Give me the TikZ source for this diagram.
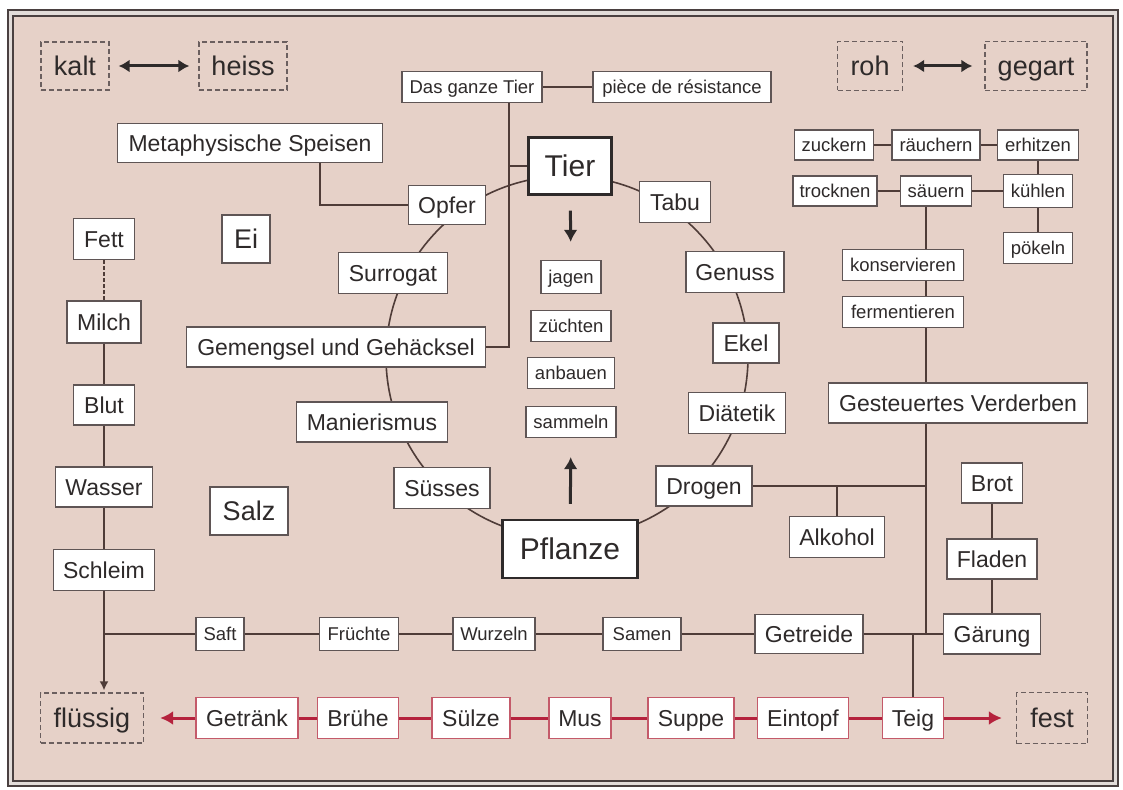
\documentclass[tikz,border=0pt]{standalone}
\usepackage{fontspec}
\setmainfont{Liberation Sans}
\usetikzlibrary{arrows.meta}
\newcommand\fsz[1]{\fontsize{#1}{#1}\selectfont}
\definecolor{bgc}{HTML}{E6D1C8}
\definecolor{bandc}{HTML}{E2DCD9}
\definecolor{framec}{HTML}{4A4040}
\definecolor{bordc}{HTML}{5F5555}
\definecolor{linec}{HTML}{4F3C38}
\definecolor{txt}{HTML}{2E2A2A}
\definecolor{dashc}{HTML}{6B5F5F}
\definecolor{redl}{HTML}{B5223D}
\definecolor{redb}{HTML}{C45A6A}
\tikzset{
 box/.style={draw=bordc, line width=1.3pt, fill=white, inner sep=0pt, text=txt, font=\fsz{23}, text height=16.6pt, text depth=0pt},
 sbox/.style={box, font=\fsz{18.5}, text height=13.3pt},
 lbox/.style={box, font=\fsz{27}, text height=19.4pt},
 hbox/.style={box, line width=2.2pt, draw=txt, font=\fsz{30}, text height=21.6pt},
 dbox/.style={draw=dashc, line width=1.3pt, dash pattern=on 5pt off 3pt, inner sep=0pt, text=txt, font=\fsz{27}, text height=19.4pt, text depth=0pt},
 rbox/.style={box, draw=redb},
 ln/.style={draw=linec, line width=1.6pt},
 rln/.style={draw=redl, line width=3pt},
 bw/.style 2 args={minimum width=#1pt, minimum height=#2pt},
 darr/.style={draw=txt, line width=3pt, {Latex[length=11pt,width=13pt]}-{Latex[length=11pt,width=13pt]}},
 varr/.style={draw=txt, line width=3pt, -{Latex[length=12pt,width=14pt]}},
 rarr/.style={rln, -{Latex[length=13pt,width=14pt]}},
}
\begin{document}
\begin{tikzpicture}[x=1pt,y=-1pt]
\useasboundingbox (0,0) rectangle (1123,789);
% frame
\fill[white] (0,0) rectangle (1123,789);
\draw[framec, line width=2pt, fill=bandc] (8,10) rectangle (1118,786);
\draw[framec, line width=1.4pt, fill=bgc] (13,16) rectangle (1113,781);
% ring behind the nodes
\coordinate (ring) at (567,357);
\draw[ln] (ring) circle[radius=181];

% dashed pole boxes
\node[dbox, bw={68}{48}] (kalt) at (75,66) {kalt};
\node[dbox, bw={88}{48}] (heiss) at (243,66) {heiss};
\node[dbox, bw={65}{49}] (roh) at (870,66) {roh};
\node[dbox, bw={102}{49}] (gegart) at (1036,66) {gegart};
\node[dbox, bw={103}{50}] (fluessig) at (92,718) {flüssig};
\node[dbox, bw={71}{51}] (fest) at (1052,718) {fest};

% top
\node[sbox, bw={140}{31}] (dgt) at (472,87) {Das ganze Tier};
\node[sbox, bw={178}{31}] (piece) at (682,87) {pièce de résistance};
\node[box, bw={265}{39}] (meta) at (250,143) {Metaphysische Speisen};

% ring nodes
\node[hbox, bw={83}{57}] (tier) at (570,166) {Tier};
\node[box, bw={77}{39}] (opfer) at (447,205) {Opfer};
\node[box, bw={71}{41}] (tabu) at (675,202) {Tabu};
\node[box, bw={109}{41}] (surrogat) at (393,273) {Surrogat};
\node[box, bw={98}{41}] (genuss) at (735,272) {Genuss};
\node[box, bw={66}{40}] (ekel) at (746,343) {Ekel};
\node[box, bw={299}{40}] (gem) at (336,347) {Gemengsel und Gehäcksel};
\node[box, bw={97}{41}] (dia) at (737,413) {Diätetik};
\node[box, bw={151}{40}] (mani) at (372,422) {Manierismus};
\node[box, bw={96}{40}] (drogen) at (704,486) {Drogen};
\node[box, bw={96}{41}] (suesses) at (442,488) {Süsses};
\node[hbox, bw={135}{58}] (pflanze) at (570,549) {Pflanze};

% inner verbs
\node[sbox, bw={60}{33}] (jagen) at (571,277) {jagen};
\node[sbox, bw={80}{31}] (zuechten) at (571,326) {züchten};
\node[sbox, bw={87}{31}] (anbauen) at (571,373) {anbauen};
\node[sbox, bw={90}{31}] (sammeln) at (571,422) {sammeln};

% left column
\node[box, bw={61}{41}] (fett) at (104,239) {Fett};
\node[box, bw={74}{42}] (milch) at (104,322) {Milch};
\node[box, bw={61}{40}] (blut) at (104,405) {Blut};
\node[box, bw={97}{40}] (wasser) at (104,487) {Wasser};
\node[box, bw={101}{41}] (schleim) at (104,570) {Schleim};
\node[lbox, bw={48}{48}] (ei) at (246,239) {Ei};
\node[lbox, bw={78}{48}] (salz) at (249,511) {Salz};

% top right cluster
\node[sbox, bw={79}{30}] (zuckern) at (834,145) {zuckern};
\node[sbox, bw={88}{30}] (raeuchern) at (936,145) {räuchern};
\node[sbox, bw={81}{30}] (erhitzen) at (1038,145) {erhitzen};
\node[sbox, bw={84}{30}] (trocknen) at (835,191) {trocknen};
\node[sbox, bw={71}{30}] (saeuern) at (936,191) {säuern};
\node[sbox, bw={69}{33}] (kuehlen) at (1038,191) {kühlen};
\node[sbox, bw={69}{31}] (poekeln) at (1038,248) {pökeln};
\node[sbox, bw={121}{31}] (konserv) at (903,265) {konservieren};
\node[sbox, bw={121}{31}] (ferm) at (903,312) {fermentieren};
\node[box, bw={259}{40}] (gv) at (958,403) {Gesteuertes Verderben};
\node[box, bw={61}{40}] (brot) at (992,483) {Brot};
\node[box, bw={90}{40}] (fladen) at (992,559) {Fladen};
\node[box, bw={95}{41}] (alkohol) at (837,537) {Alkohol};

% row of plant parts
\node[sbox, bw={48}{33}] (saft) at (220,634) {Saft};
\node[sbox, bw={79}{33}] (fruechte) at (359,634) {Früchte};
\node[sbox, bw={82}{33}] (wurzeln) at (494,634) {Wurzeln};
\node[sbox, bw={78}{33}] (samen) at (642,634) {Samen};
\node[box, bw={108}{39}] (getreide) at (809,634) {Getreide};
\node[box, bw={97}{40}] (gaerung) at (992,634) {Gärung};

% red row
\node[rbox, bw={102}{41}] (getraenk) at (247,718) {Getränk};
\node[rbox, bw={81}{41}] (bruehe) at (358,718) {Brühe};
\node[rbox, bw={78}{41}] (suelze) at (471,718) {Sülze};
\node[rbox, bw={62}{41}] (mus) at (580,718) {Mus};
\node[rbox, bw={86}{41}] (suppe) at (691,718) {Suppe};
\node[rbox, bw={91}{41}] (eintopf) at (803,718) {Eintopf};
\node[rbox, bw={61}{41}] (teig) at (913,718) {Teig};

% helper x positions
\coordinate (mj) at (320,0);
\coordinate (tj) at (509,0);
\coordinate (vl) at (926,0);

% connectors
\draw[darr, shorten <=9pt, shorten >=9pt] (kalt) -- (heiss);
\draw[darr, shorten <=10pt, shorten >=12pt] (roh) -- (gegart);
\draw[ln] (dgt) -- (piece);
\draw[ln] (dgt.south -| tj) |- (gem.east);
\draw[ln] (tj |- tier.west) -- (tier.west);
\draw[ln] (meta.south -| mj) |- (opfer.west);
\draw[varr, shorten <=15pt, shorten >=18pt] (tier) -- (jagen);
\draw[varr, shorten <=15pt, shorten >=19pt] (pflanze) -- (sammeln);

\draw[ln, dash pattern=on 4pt off 2pt] (fett) -- (milch);
\draw[ln] (milch) -- (blut) -- (wasser) -- (schleim);
\draw[ln] (schleim.south) -- (schleim.south |- saft.west) -- (saft.west);
\draw[ln, -{Latex[length=9pt,width=9pt]}, shorten >=2pt] (schleim.south |- saft.west) -- (schleim.south |- fluessig.north);
\draw[ln] (saft) -- (fruechte) -- (wurzeln) -- (samen) -- (getreide) -- (gaerung);

\draw[ln] (zuckern) -- (raeuchern) -- (erhitzen);
\draw[ln] (trocknen) -- (saeuern) -- (kuehlen);
\draw[ln] (erhitzen) -- (kuehlen) -- (poekeln);
\draw[ln] (saeuern.south -| vl) -- (konserv.north -| vl);
\draw[ln] (konserv.south -| vl) -- (ferm.north -| vl);
\draw[ln] (ferm.south -| vl) -- (gv.north -| vl);
\draw[ln] (gv.south -| vl) -- (vl |- getreide.east);
\draw[ln] (drogen.east) -- (vl |- drogen.east);
\draw[ln] (alkohol.north) -- (alkohol.north |- drogen.east);
\draw[ln] (gaerung) -- (fladen) -- (brot);
\draw[ln] (teig.north) -- (teig.north |- getreide.east);

\draw[rln] (getraenk) -- (bruehe) -- (suelze) -- (mus) -- (suppe) -- (eintopf) -- (teig);
\draw[rarr, shorten >=16pt] (getraenk) -- (fluessig);
\draw[rarr, shorten >=14pt] (teig) -- (fest);
\end{tikzpicture}
\end{document}
